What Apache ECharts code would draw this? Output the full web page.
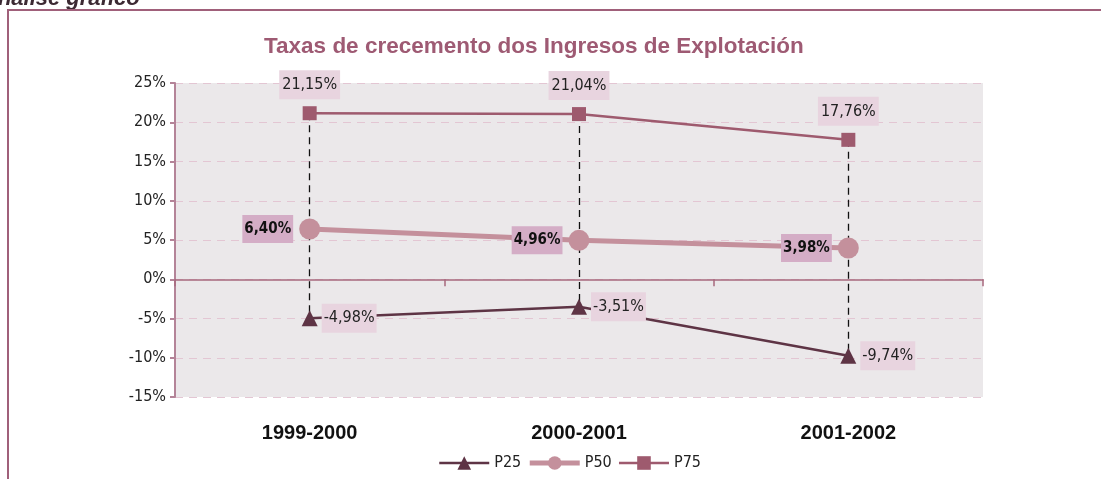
<!DOCTYPE html>
<html>
<head>
<meta charset="utf-8">
<script src="https://cdn.jsdelivr.net/npm/echarts@6/dist/echarts.min.js"></script>
<style>
  html, body { margin: 0; padding: 0; background: #fff; }
  #chart { width: 1101px; height: 479px; }
</style>
</head>
<body>
<div id="chart"></div>
<script>
// datos
var categories = ['1999-2000', '2000-2001', '2001-2002'];
var p25 = [-4.98, -3.51, -9.74];
var p50 = [6.40, 4.96, 3.98];
var p75 = [21.15, 21.04, 17.76];
var yTicks = { min: -15, max: 25, step: 5 };

var narrow = '"DejaVu Sans Condensed", "Liberation Sans Narrow", sans-serif';

function fmt(v) {
    return v.toFixed(2).replace('.', ',') + '%';
}

// lineas discontinuas entre P75 e P25
var dropLines = [];
categories.forEach(function (c, i) {
    dropLines.push([{ coord: [i, p75[i]] }, { coord: [i, p25[i]] }]);
});

var myCharts = echarts.init(document.getElementById('chart'));
var option = {
    backgroundColor: '#fff',
    animation: false,
    title: {
        text: 'Taxas de crecemento dos Ingresos de Explotación',
        left: 259,
        top: 30,
        textStyle: {
            fontFamily: '"Liberation Sans", Arial, sans-serif',
            fontSize: 22.5,
            fontWeight: 'bold',
            color: '#9e5a73'
        }
    },
    graphic: [
        {
            type: 'text',
            left: -18,
            top: -12,
            style: {
                text: 'Análise gráfico',
                font: 'italic bold 22px "Liberation Sans", Arial, sans-serif',
                fill: '#3c2a33'
            }
        },
        {
            type: 'polyline',
            shape: { points: [[8, 479], [8, 10], [1101, 10]] },
            style: { stroke: '#a0607a', lineWidth: 2, fill: null }
        }
    ],
    legend: {
        left: 433,
        top: 450,
        itemWidth: 50,
        itemHeight: 17,
        itemGap: 6,
        data: [
            { name: 'P25', lineStyle: { width: 2.5 } },
            { name: 'P50', lineStyle: { width: 5 } },
            { name: 'P75', lineStyle: { width: 2.5 } }
        ],
        textStyle: { fontFamily: narrow, fontSize: 16, color: '#222' }
    },
    grid: {
        left: 175,
        right: 118,
        top: 83,
        bottom: 82,
        show: true,
        backgroundColor: '#ebe8ea',
        borderWidth: 0
    },
    xAxis: [
        {
            type: 'category',
            data: categories,
            boundaryGap: true,
            axisLine: { onZero: true, lineStyle: { color: '#a8687e', width: 1.5 } },
            axisTick: { show: true, length: 7, lineStyle: { color: '#a8687e', width: 1.5 } },
            axisLabel: { show: false },
            splitLine: { show: false }
        },
        {
            type: 'category',
            data: categories,
            position: 'bottom',
            boundaryGap: true,
            axisLine: { show: false, onZero: false },
            axisTick: { show: false },
            axisLabel: {
                margin: 26,
                fontFamily: '"Liberation Sans", Arial, sans-serif',
                fontSize: 20,
                fontWeight: 'bold',
                color: '#111'
            }
        }
    ],
    yAxis: {
        type: 'value',
        min: yTicks.min,
        max: yTicks.max,
        interval: yTicks.step,
        axisLine: { show: true, lineStyle: { color: '#b48498', width: 2 } },
        axisTick: { show: true, length: 5, lineStyle: { color: '#b48498', width: 2 } },
        axisLabel: {
            formatter: '{value}%',
            fontFamily: narrow,
            fontSize: 16,
            color: '#222',
            margin: 9
        },
        splitLine: { show: true, lineStyle: { color: '#e3c6d3', type: [8, 6], width: 1 } }
    },
    series: [
        {
            name: 'P25',
            type: 'line',
            data: p25,
            z: 3,
            symbol: 'triangle',
            symbolSize: 16,
            itemStyle: { color: '#5e3445' },
            lineStyle: { color: '#5e3445', width: 2.5 },
            label: {
                show: true,
                position: 'right',
                distance: 4,
                formatter: function (p) { return fmt(p.value); },
                fontFamily: narrow,
                fontSize: 16,
                color: '#222',
                backgroundColor: '#e8d4df',
                padding: [7, 2, 6, 2]
            }
        },
        {
            name: 'P50',
            type: 'line',
            data: p50,
            z: 5,
            symbol: 'circle',
            symbolSize: 21,
            itemStyle: { color: '#c4909c' },
            lineStyle: { color: '#c4909c', width: 5 },
            label: {
                show: true,
                position: 'left',
                distance: 6,
                formatter: function (p) { return fmt(p.value); },
                fontFamily: narrow,
                fontSize: 15,
                fontWeight: 'bold',
                color: '#111',
                backgroundColor: '#d4adc6',
                padding: [7, 2, 6, 2]
            }
        },
        {
            name: 'P75',
            type: 'line',
            data: p75,
            z: 4,
            symbol: 'rect',
            symbolSize: 14,
            itemStyle: { color: '#9e5a6e' },
            lineStyle: { color: '#9e5a6e', width: 2.5 },
            label: {
                show: true,
                position: 'top',
                distance: 7,
                formatter: function (p) { return fmt(p.value); },
                fontFamily: narrow,
                fontSize: 16,
                color: '#222',
                backgroundColor: '#e8d4df',
                padding: [7, 3, 6, 3]
            },
            markLine: {
                silent: true,
                symbol: 'none',
                z: 1,
                label: { show: false },
                lineStyle: { color: '#111', type: [7, 5], width: 1.3 },
                data: dropLines
            }
        }
    ]
};
myCharts.setOption(option);
</script>
</body>
</html>
